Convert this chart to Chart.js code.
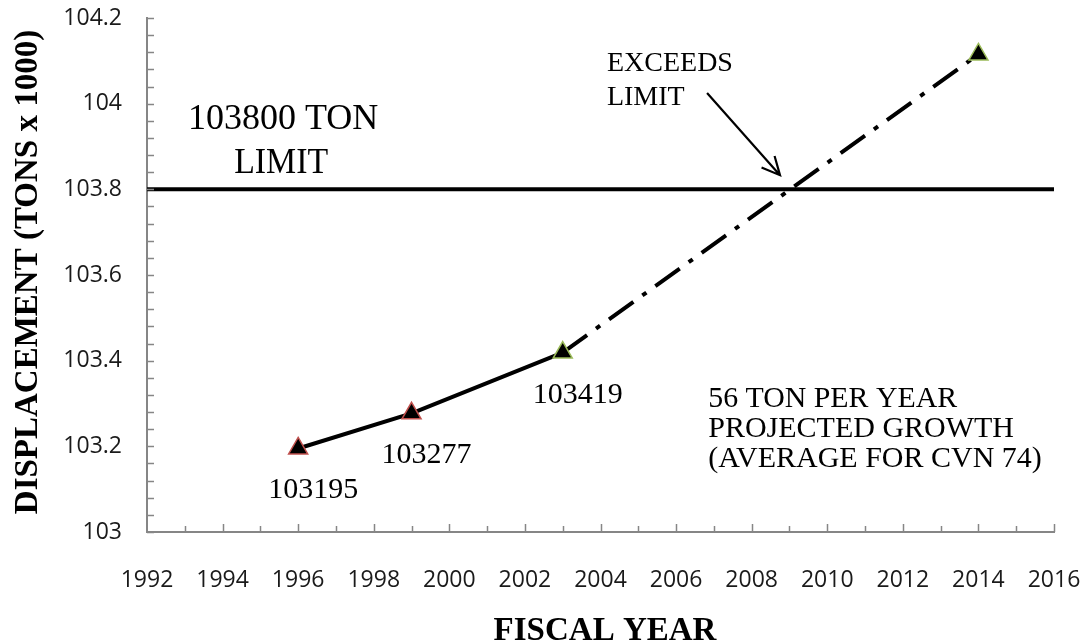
<!DOCTYPE html>
<html>
<head>
<meta charset="utf-8">
<script src="https://cdn.jsdelivr.net/npm/chart.js@4.4.1/dist/chart.umd.min.js"></script>
<style>
  html, body { margin: 0; padding: 0; background: #fff; }
  canvas { display: block; }
</style>
</head>
<body>
<canvas id="displacementChart" width="1084" height="641"></canvas>
<script>
// values
const years = [1996, 1999, 2003, 2014];
const displacement = [103.195, 103.277, 103.419, 104.115]; // tons x 1000
const limitYears = [1992, 2016];
const limitValue = 103.8;
const xTicks = { min: 1992, max: 2016, step: 2 };
const yTicks = { min: 103, max: 104.2, step: 0.2 };

const serif = '"Liberation Serif", "Times New Roman", serif';

// actual points up to 2003, projection from 2003 on
const actual = years.slice(0, 3).map((x, i) => ({ x: x, y: displacement[i] }));
const projected = years.slice(2).map((x, i) => ({ x: x, y: displacement[i + 2] }));
const limitLine = limitYears.map(x => ({ x: x, y: limitValue }));

const extras = {
    id: 'extras',
    afterDraw(chart) {
        const c = chart.ctx;
        const xs = chart.scales.x, ys = chart.scales.y;
        const area = chart.chartArea;
        c.save();

        // inward tick marks
        c.strokeStyle = '#868686';
        c.lineWidth = 1.5;
        c.beginPath();
        for (let i = 0; i <= 30; i++) {
            const py = Math.round(ys.getPixelForValue(yTicks.min + i * 0.04)) + 0.5;
            c.moveTo(area.left, py);
            c.lineTo(area.left + 7, py);
        }
        for (let yr = xTicks.min + 1; yr <= xTicks.max; yr++) {
            const px = Math.round(xs.getPixelForValue(yr)) + 0.5;
            c.moveTo(px, area.bottom);
            c.lineTo(px, area.bottom - (yr % 2 === 0 ? 8 : 6));
        }
        c.stroke();

        // value labels under the actual points
        c.fillStyle = '#000';
        c.font = '30px ' + serif;
        c.textAlign = 'center';
        c.textBaseline = 'alphabetic';
        actual.forEach(p => {
            const px = xs.getPixelForValue(p.x), py = ys.getPixelForValue(p.y);
            c.fillText(String(Math.round(p.y * 1000)), px + 15, py + 50);
        });

        // notes
        const note = (text, x, y, size, maxW, align) => {
            c.font = size + 'px ' + serif;
            c.textAlign = align || 'left';
            c.fillText(text, xs.getPixelForValue(x), ys.getPixelForValue(y), maxW);
        };
        note('103800 TON', 1995.6, 103.941, 36, 192, 'center');
        note('LIMIT', 1995.55, 103.838, 36, 94, 'center');
        note('EXCEEDS', 2004.17, 104.076, 28, 131);
        note('LIMIT', 2004.17, 103.997, 28, 80);
        note('56 TON PER YEAR', 2006.85, 103.292, 30, 249);
        note('PROJECTED GROWTH', 2006.85, 103.222, 30, 310);
        note('(AVERAGE FOR CVN 74)', 2006.85, 103.152, 30, 366);

        // arrow to the crossing
        const x1 = xs.getPixelForValue(2006.82), y1 = ys.getPixelForValue(104.025);
        const x2 = xs.getPixelForValue(2008.75), y2 = ys.getPixelForValue(103.833);
        const ang = Math.atan2(y2 - y1, x2 - x1);
        c.strokeStyle = '#000';
        c.lineWidth = 2.2;
        c.beginPath();
        c.moveTo(x1, y1);
        c.lineTo(x2, y2);
        c.moveTo(x2 - 20 * Math.cos(ang - 0.45), y2 - 20 * Math.sin(ang - 0.45));
        c.lineTo(x2, y2);
        c.lineTo(x2 - 20 * Math.cos(ang + 0.45), y2 - 20 * Math.sin(ang + 0.45));
        c.stroke();

        // axis titles
        c.font = 'bold 33px ' + serif;
        c.textAlign = 'center';
        c.fillText('FISCAL YEAR', 605, 640);
        c.translate(28, 272);
        c.rotate(-Math.PI / 2);
        c.textBaseline = 'middle';
        c.fillText('DISPLACEMENT (TONS x 1000)', 0, 0);
        c.restore();
    }
};

const tickFont = { family: '"Open Sans", "DejaVu Sans", sans-serif', size: 23 };

new Chart(document.getElementById('displacementChart'), {
    type: 'line',
    data: {
        datasets: [
            {
                data: limitLine,
                borderColor: '#000',
                borderWidth: 4,
                pointRadius: 0,
                order: 3
            },
            {
                data: actual,
                borderColor: '#000',
                borderWidth: 4,
                pointStyle: 'triangle',
                pointRadius: 11,
                pointBackgroundColor: '#000',
                pointBorderColor: ['#c0504d', '#c0504d', '#9bbb59'],
                pointBorderWidth: 1.5,
                order: 1
            },
            {
                data: projected,
                borderColor: '#000',
                borderWidth: 4,
                borderDash: [30, 11, 5, 11],
                pointStyle: 'triangle',
                pointRadius: [0, 11],
                pointBackgroundColor: '#000',
                pointBorderColor: '#9bbb59',
                pointBorderWidth: 1.5,
                order: 2
            }
        ]
    },
    options: {
        responsive: false,
        devicePixelRatio: 1,
        animation: false,
        layout: { autoPadding: false, padding: { top: 18, right: 30, left: 0, bottom: 0 } },
        plugins: { legend: { display: false }, tooltip: { enabled: false } },
        scales: {
            x: {
                type: 'linear',
                min: xTicks.min,
                max: xTicks.max,
                afterFit(s) { s.height = 109; s.paddingLeft = 0; s.paddingRight = 0; },
                grid: { drawOnChartArea: false, drawTicks: false },
                border: { color: '#868686', width: 2 },
                ticks: { stepSize: xTicks.step, color: '#1a1a1a', font: tickFont, padding: 35, maxRotation: 0,
                         callback: v => String(v) }
            },
            y: {
                min: yTicks.min,
                max: yTicks.max,
                afterFit(s) { s.width = 147; s.paddingTop = 0; s.paddingBottom = 0; },
                grid: { drawOnChartArea: false, drawTicks: false },
                border: { color: '#868686', width: 2 },
                ticks: { stepSize: yTicks.step, color: '#1a1a1a', font: tickFont, padding: 25,
                         callback: v => String(parseFloat(v.toFixed(2))) }
            }
        }
    },
    plugins: [extras]
});
</script>
</body>
</html>
